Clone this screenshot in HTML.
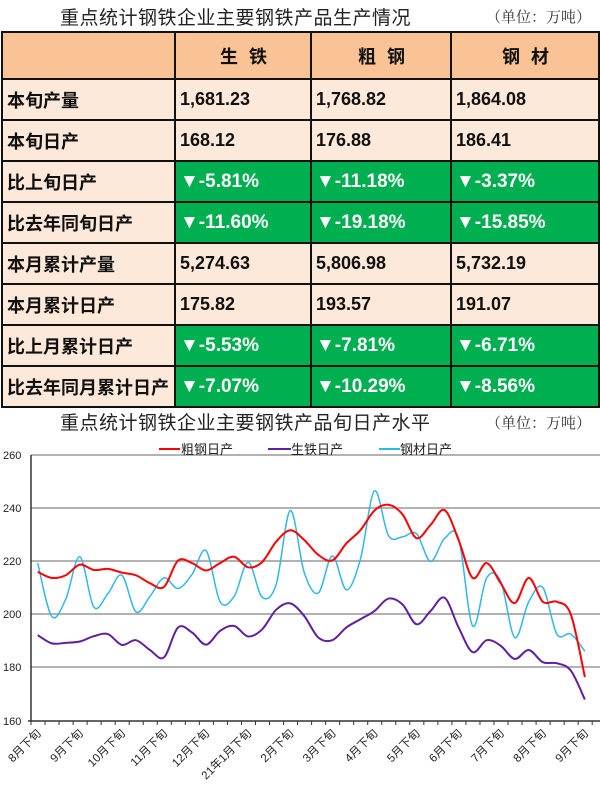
<!DOCTYPE html>
<html><head><meta charset="utf-8">
<style>
body{margin:0;width:600px;height:789px;background:#fff;position:relative;overflow:hidden;font-family:"Liberation Sans","Noto Sans CJK SC",sans-serif;}
.t1{position:absolute;left:60px;top:3px;font-size:19px;color:#222;letter-spacing:0.5px}
.u{position:absolute;font-family:"Liberation Serif","Noto Serif CJK SC",serif;font-size:15px;color:#333}
table{position:absolute;left:1px;top:31px;border-collapse:collapse;}
td{border:2px solid #111;height:39px;padding:0 0 0 4px;font-weight:bold;font-size:18px;color:#111;background:#fde9d9;}
tr.h td{background:#f9c396;height:45px;text-align:center;letter-spacing:3px;}
td.g{background:#00b050;color:#fff;font-size:19px;}
</style></head><body>
<div class="t1">重点统计钢铁企业主要钢铁产品生产情况</div>
<div class="u" style="left:486px;top:6px">（单位：万吨）</div>
<table>
<colgroup><col style="width:173px"><col style="width:136px"><col style="width:140px"><col style="width:148px"></colgroup>
<tr class="h"><td></td><td>生 铁</td><td>粗 钢</td><td>钢 材</td></tr>
<tr><td>本旬产量</td><td>1,681.23</td><td>1,768.82</td><td>1,864.08</td></tr>
<tr><td>本旬日产</td><td>168.12</td><td>176.88</td><td>186.41</td></tr>
<tr><td>比上旬日产</td><td class="g">▼-5.81%</td><td class="g">▼-11.18%</td><td class="g">▼-3.37%</td></tr>
<tr><td>比去年同旬日产</td><td class="g">▼-11.60%</td><td class="g">▼-19.18%</td><td class="g">▼-15.85%</td></tr>
<tr><td>本月累计产量</td><td>5,274.63</td><td>5,806.98</td><td>5,732.19</td></tr>
<tr><td>本月累计日产</td><td>175.82</td><td>193.57</td><td>191.07</td></tr>
<tr><td>比上月累计日产</td><td class="g">▼-5.53%</td><td class="g">▼-7.81%</td><td class="g">▼-6.71%</td></tr>
<tr><td>比去年同月累计日产</td><td class="g">▼-7.07%</td><td class="g">▼-10.29%</td><td class="g">▼-8.56%</td></tr>
</table>
<div class="t1" style="top:408px;font-size:19px">重点统计钢铁企业主要钢铁产品旬日产水平</div>
<div class="u" style="left:486px;top:412px">（单位：万吨）</div>
<svg id="c" width="600" height="789" style="position:absolute;left:0;top:0" xmlns="http://www.w3.org/2000/svg">
<g stroke="#999" stroke-width="1.5">
<line x1="31" y1="455" x2="600" y2="455"/><line x1="31" y1="508" x2="600" y2="508"/><line x1="31" y1="561" x2="600" y2="561"/><line x1="31" y1="614" x2="600" y2="614"/><line x1="31" y1="667" x2="600" y2="667"/>
</g>
<line x1="31" y1="455" x2="31" y2="721" stroke="#333" stroke-width="1.5"/>
<line x1="28" y1="721" x2="600" y2="721" stroke="#333" stroke-width="1.5"/>
<g font-size="11" fill="#222" font-family="Liberation Sans,sans-serif">
<text x="3" y="459">260</text><text x="3" y="512">240</text><text x="3" y="565">220</text><text x="3" y="618">200</text><text x="3" y="671">180</text><text x="3" y="725">160</text>
</g>
<g id="ticks" stroke="#333" stroke-width="1"></g>
<g id="xl" font-size="11.5" fill="#222" font-family="Liberation Sans,Noto Sans CJK SC,sans-serif"></g>
<g id="lines" fill="none" stroke-width="2"></g>
<g font-size="13" fill="#222" font-family="Liberation Sans,Noto Sans CJK SC,sans-serif">
<line x1="159" y1="449" x2="180" y2="449" stroke="#f00" stroke-width="2"/><text x="181" y="454">粗钢日产</text>
<line x1="268" y1="449" x2="291" y2="449" stroke="#6020a0" stroke-width="2"/><text x="291" y="454">生铁日产</text>
<line x1="379" y1="449" x2="400" y2="449" stroke="#30b8e8" stroke-width="2"/><text x="400" y="454">钢材日产</text>
</g>
</svg>
<script>
var red=[216.3,214,215,219,217,217.4,216,215,212,210.6,220.5,219.6,216.8,219.6,222,218,220,227.7,232,228.3,222.7,220.6,227,232,239.4,241.6,238,229,234,239.6,228.3,214,219.6,212,204.5,214,205,205,200.2,176.6];
var pur=[192.4,189.3,189.5,190,192,192.8,188.7,190.5,186.8,184,195.3,193.4,188.8,194,195.9,191.9,194.6,202,204.4,199.6,191.5,190.5,195.3,198.4,201.5,206.2,204,196.5,201.5,206.5,195.3,186,190.5,188.4,183.4,186.8,182.2,181.8,179,168.1];
var cy=[219.6,199.5,206,222,203,208,215,201.2,207,214,210,215.3,224.3,205,207,219.9,206.7,211.6,239.4,216,208.3,222.3,209.5,221,246.8,230,229.5,230.7,220.2,228.9,228.9,195.9,214,212.8,191.5,205,210.4,192.8,192.8,186.3];
function X(i){return 37.7+14.03*i}function Y(v){return 721-(v-160)*2.65}
function path(d){var p=d.map(function(v,i){return[X(i),Y(v)]});var s="M"+p[0][0]+","+p[0][1];
for(var i=0;i<p.length-1;i++){var a=p[i-1]||p[i],b=p[i],c=p[i+1],e=p[i+2]||c;
s+=" C"+(b[0]+(c[0]-a[0])/6)+","+(b[1]+(c[1]-a[1])/6)+" "+(c[0]-(e[0]-b[0])/6)+","+(c[1]-(e[1]-b[1])/6)+" "+c[0]+","+c[1];}return s;}
var ns="http://www.w3.org/2000/svg",L=document.getElementById("lines");
[[cy,"#30b8e8",1.5],[pur,"#6020a0",2],[red,"#f00",2]].forEach(function(q){var e=document.createElementNS(ns,"path");e.setAttribute("d",path(q[0]));e.setAttribute("stroke",q[1]);e.setAttribute("stroke-width",q[2]);L.appendChild(e);});
var T=document.getElementById("ticks");for(var k=0;k<=40;k++){var l=document.createElementNS(ns,"line");var x=31+14.03*k;l.setAttribute("x1",x);l.setAttribute("x2",x);l.setAttribute("y1",721);l.setAttribute("y2",725);T.appendChild(l);}
var labs=["8月下旬","9月下旬","10月下旬","11月下旬","12月下旬","21年1月下旬","2月下旬","3月下旬","4月下旬","5月下旬","6月下旬","7月下旬","8月下旬","9月下旬"];
var G=document.getElementById("xl");labs.forEach(function(t,j){var x=X(j*3)+4,y=734;var e=document.createElementNS(ns,"text");e.setAttribute("x",x);e.setAttribute("y",y);e.setAttribute("text-anchor","end");e.setAttribute("transform","rotate(-45 "+x+" "+y+")");e.textContent=t;G.appendChild(e);});
</script>
</body></html>
